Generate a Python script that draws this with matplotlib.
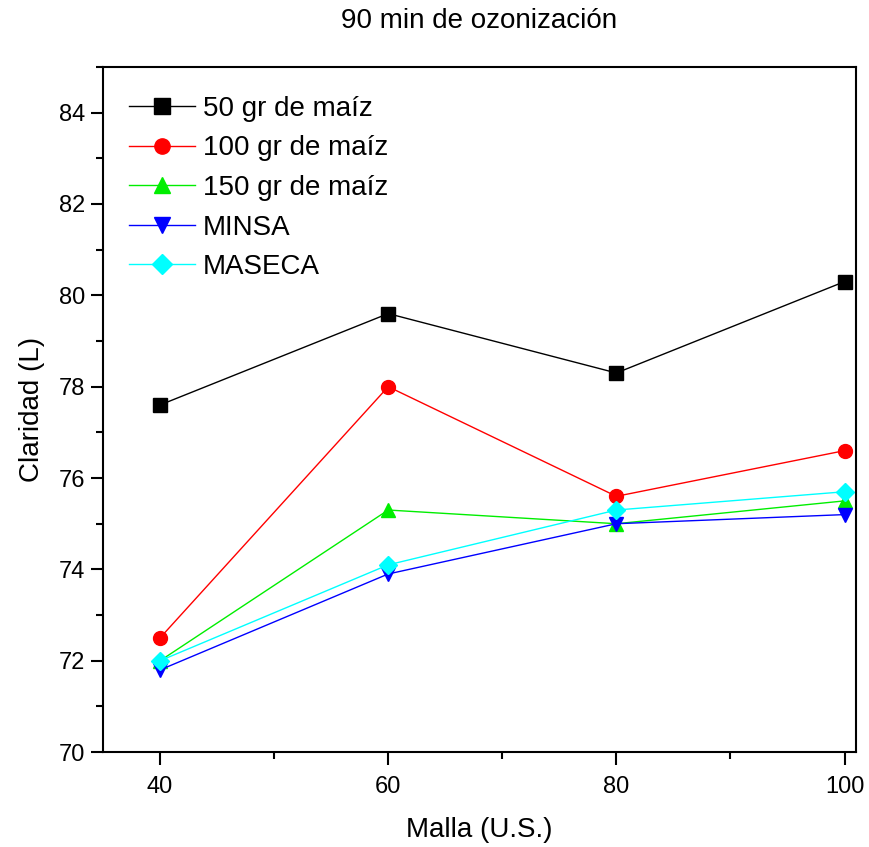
import matplotlib
matplotlib.use("Agg")
import matplotlib.pyplot as plt
from matplotlib.ticker import MultipleLocator

plt.rcParams['font.family'] = ['Liberation Sans', 'DejaVu Sans']

# Claridad (L) por tamaño de malla, 90 min de ozonización
malla = [40, 60, 80, 100]
gr50 = [77.6, 79.6, 78.3, 80.3]
gr100 = [72.5, 78.0, 75.6, 76.6]
gr150 = [72.0, 75.3, 75.0, 75.5]
minsa = [71.8, 73.9, 75.0, 75.2]
maseca = [72.0, 74.1, 75.3, 75.7]

series = [
    ("50 gr de maíz", gr50, "black", "s"),
    ("100 gr de maíz", gr100, "red", "o"),
    ("150 gr de maíz", gr150, "#00ee00", "^"),
    ("MINSA", minsa, "blue", "v"),
    ("MASECA", maseca, "cyan", "D"),
]

fig = plt.figure(figsize=(8.69, 8.47), dpi=100)
ax = fig.add_axes([0.1185, 0.112, 0.8665, 0.809])

for label, vals, col, mk in series:
    ms = 9 if mk == "D" else 10
    ax.plot(malla, vals, color=col, marker=mk, markersize=ms, linewidth=1,
            markeredgecolor=col, label=label)

ax.set_xlim(35, 101)
ax.set_ylim(70, 85)
ax.xaxis.set_major_locator(MultipleLocator(20))
ax.xaxis.set_minor_locator(MultipleLocator(10))
ax.yaxis.set_major_locator(MultipleLocator(2))
ax.yaxis.set_minor_locator(MultipleLocator(1))
ax.set_yticks([70, 72, 74, 76, 78, 80, 82, 84])

for sp in ax.spines.values():
    sp.set_linewidth(1.5)
ax.tick_params(which='major', direction='out', length=9, width=1.5,
               labelsize=17)
ax.tick_params(which='minor', direction='out', length=5, width=1.5)
ax.tick_params(axis='x', which='major', pad=8)
ax.tick_params(axis='y', which='major', pad=4)

ax.set_xlabel("Malla (U.S.)", fontsize=20, labelpad=14)
ax.set_ylabel("Claridad (L)", fontsize=20, labelpad=10)
ax.set_title("90 min de ozonización", fontsize=20, pad=28)

ax.legend(loc='upper left', frameon=False, fontsize=20, handlelength=2.35,
          handletextpad=0.3, labelspacing=0.49, borderaxespad=0,
          borderpad=0, markerscale=1.1, bbox_to_anchor=(0.035, 0.958))

fig.savefig("out.png", dpi=100)
